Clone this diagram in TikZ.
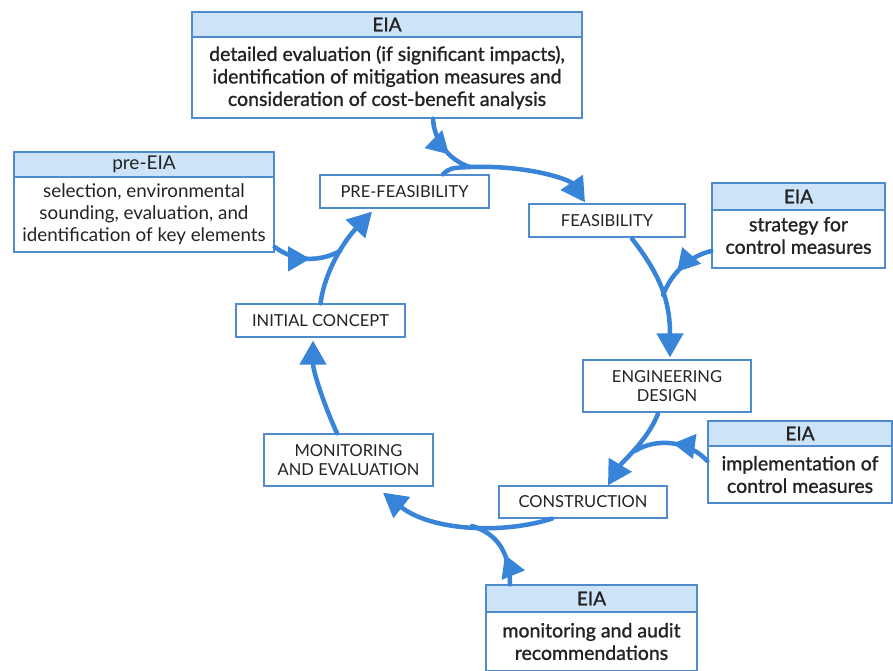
\documentclass[tikz,border=0pt]{standalone}
\usepackage{fontspec}
\setmainfont{Lato}
\newfontfamily\medfont[FakeBold=1.2]{Lato}
\usetikzlibrary{arrows.meta,decorations.markings,calc}
\definecolor{bblue}{RGB}{80,140,205}
\definecolor{hblue}{RGB}{205,227,247}
\definecolor{ablue}{RGB}{55,132,216}
\definecolor{tdark}{RGB}{35,35,35}
\begin{document}
\begin{tikzpicture}[x=1pt,y=-1pt,
  box/.style={draw=bblue, line width=1.3pt, fill=white, text=tdark, inner sep=0pt, align=center},
  stage/.style={box, font=\fontsize{16.5}{19.5}\selectfont},
  head/.style={box, fill=hblue, font=\medfont\fontsize{19}{21}\selectfont},
  body/.style={box, font=\medfont\fontsize{19.5}{22.5}\selectfont},
  phead/.style={box, fill=hblue, font=\fontsize{19}{21}\selectfont},
  pbody/.style={box, font=\fontsize{18.8}{22}\selectfont},
  flow/.style={color=ablue, line width=4.5pt, line cap=round, -{Triangle[length=24pt,width=26pt]}},
  feed/.style={color=ablue, line width=4.5pt, line cap=round, postaction={decorate},
    decoration={markings, mark=at position #1 with {\arrow{Triangle[length=22pt,width=24pt]}}}},
]
\fill[white] (0,0) rectangle (893,671);
\useasboundingbox (0,0) rectangle (893,671);

% EIA boxes
\node[head, minimum width=390pt, minimum height=25pt] (eiaAh) at (387,24.5) {EIA};
\node[body, minimum width=390pt, minimum height=81pt] (eiaAb) at (387,77.5)
  {detailed evaluation (if significant impacts),\\identification of mitigation measures and\\consideration of cost-benefit analysis};

\node[phead, minimum width=260pt, minimum height=25pt] (preh) at (144,164.5) {pre-EIA};
\node[pbody, minimum width=260pt, minimum height=75pt] (preb) at (144,214.5)
  {selection, environmental\\sounding, evaluation, and\\identification of key elements};

\node[body, minimum width=173pt, minimum height=65pt] (eiaBb) at (798.5,235.5)
  {strategy for\\control measures};
\node[head, minimum width=173pt, minimum height=27pt] (eiaBh) at (798.5,196.5) {EIA};

\node[head, minimum width=184pt, minimum height=25pt] (eiaCh) at (800,433.5) {EIA};
\node[body, minimum width=184pt, minimum height=57pt] (eiaCb) at (800,474.5)
  {implementation of\\control measures};

\node[head, minimum width=211pt, minimum height=27pt] (eiaDh) at (591.5,598.5) {EIA};
\node[body, minimum width=211pt, minimum height=59pt] (eiaDb) at (591.5,641.5)
  {monitoring and audit\\recommendations};

% stages
\node[stage, minimum width=169pt, minimum height=33pt] (pf) at (404.5,191.5) {PRE-FEASIBILITY};
\node[stage, minimum width=156pt, minimum height=33pt] (feas) at (607,220.5) {FEASIBILITY};
\node[stage, minimum width=169pt, minimum height=33pt] (init) at (320.5,320.5) {INITIAL CONCEPT};
\node[stage, minimum width=168pt, minimum height=52pt] (eng) at (667,386) {ENGINEERING\\DESIGN};
\node[stage, minimum width=169pt, minimum height=52pt] (mon) at (348.5,460) {MONITORING\\AND EVALUATION};
\node[stage, minimum width=168pt, minimum height=32pt] (con) at (583,502) {CONSTRUCTION};

% merge points
\coordinate (m1) at (470,167);
\coordinate (m2) at (663,295);
\coordinate (m3) at (635,451);
\coordinate (m4) at (472,526);
\coordinate (m5) at (340,251);

% cycle
\draw[flow] ($(pf.north)+(38.5,0)$) .. controls (450,168) .. (m1)
  .. controls (530,165) and (570,180) .. ($(feas.north)+(-22,-1)$);
\draw[flow] ($(feas.south)+(25,1)$) .. controls (660,275) and (670,300) .. ($(eng.north)+(3,-2)$);
\draw[flow] ($(eng.south)+(-9,1)$) .. controls (648,440) and (622,462) .. ($(con.north)+(25,0)$);
\draw[flow] ($(con.south)+(-31,0)$) .. controls (500,535) and (430,530) .. ($(mon.south)+(34.5,6)$);
\draw[flow] ($(mon.north)+(-11.5,0)$) .. controls (322,400) and (313,370) .. ($(init.south)+(-7.5,3)$);
\draw[flow] (init.north) .. controls (325,270) and (345,240) .. ($(pf.south)+(-32.5,3)$);

% EIA inputs
\draw[feed=0.62] ($(eiaAb.south)+(46,0)$) .. controls (434,140) and (448,160) .. (m1);
\draw[feed=0.6] ($(eiaBb.west)+(0,15.5)$) .. controls (690,256) and (672,272) .. (m2);
\draw[feed=0.5] ($(eiaCb.west)+(0,-13.5)$) .. controls (688,440) and (655,438) .. (m3);
\draw[feed=0.4] ($(eiaDh.north)+(-81.5,0)$) .. controls (510,550) and (495,533) .. (m4);
\draw[feed=0.55] ($(preb.east)+(0,32.5)$) .. controls (295,262) and (320,262) .. (m5);
\end{tikzpicture}
\end{document}
